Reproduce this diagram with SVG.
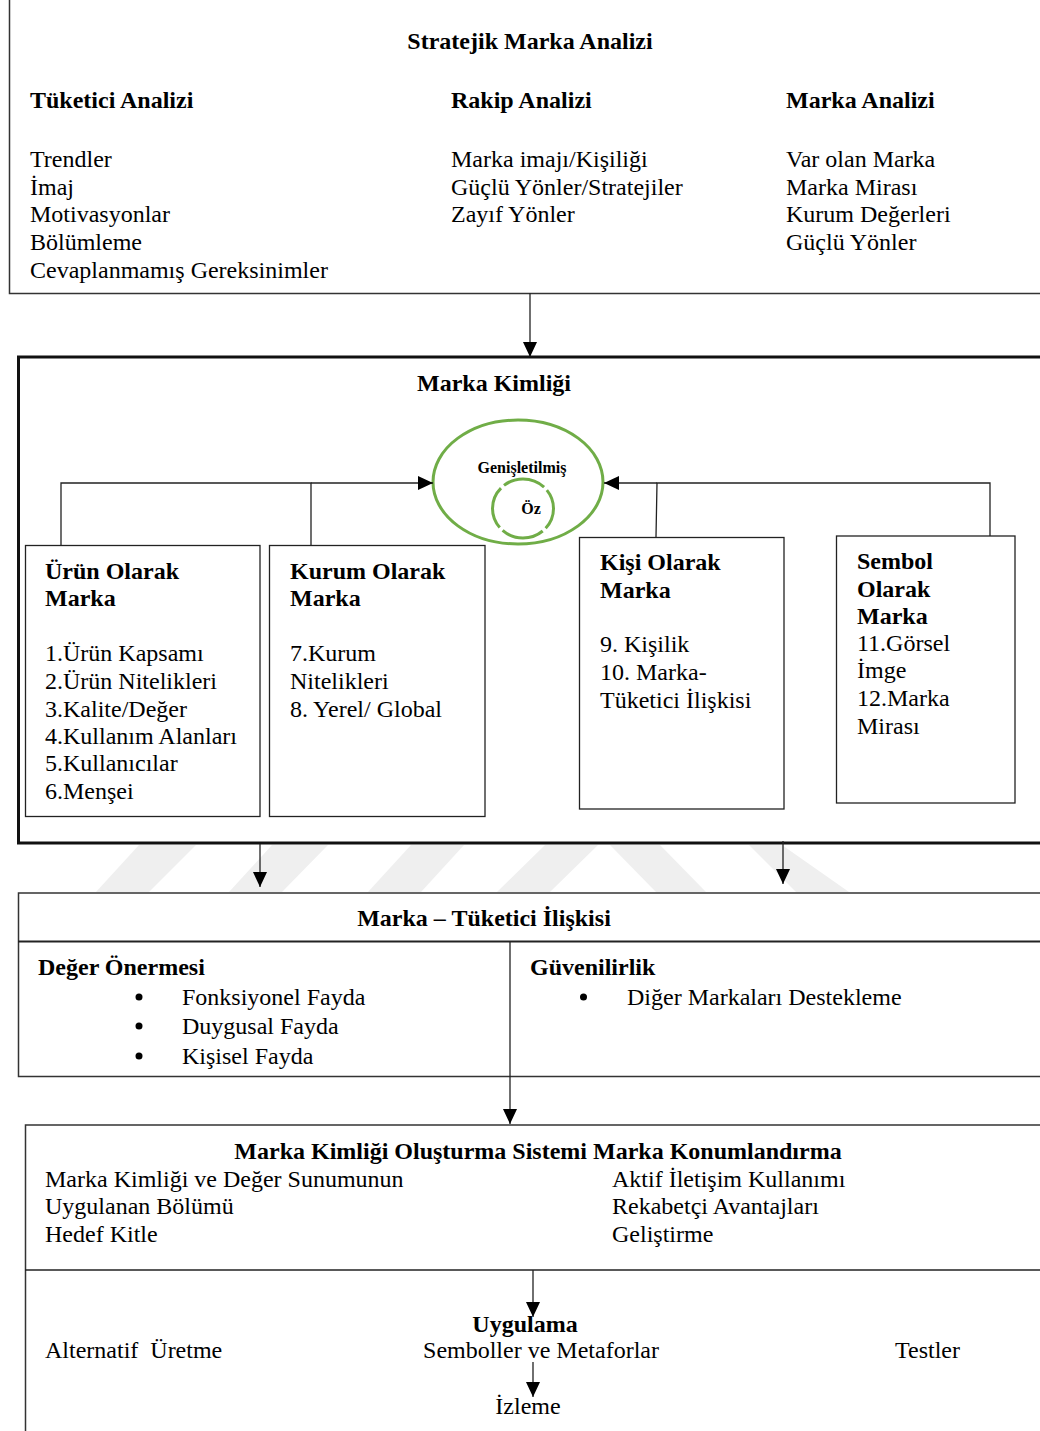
<svg xmlns="http://www.w3.org/2000/svg" width="1040" height="1431" viewBox="0 0 1040 1431">
<defs>
<style>
text{font-family:"Liberation Serif","Times New Roman",serif;font-size:24px;fill:#000}
.b{font-weight:bold}
.s{font-size:16px;font-weight:bold}
.box{fill:#fff;stroke:#222;stroke-width:1.3}
.thin{fill:#fff;stroke:#333;stroke-width:1.5}
.thick{fill:#fff;stroke:#111;stroke-width:3}
.ln{fill:none;stroke:#222;stroke-width:1.3}
.wm{fill:#efefef}
.c{text-anchor:middle}
</style>
<marker id="ah" viewBox="0 0 15 14" refX="15" refY="7" markerWidth="15" markerHeight="14" markerUnits="userSpaceOnUse" orient="auto">
<path d="M0,0 L15,7 L0,14 Z" fill="#000"/>
</marker>
</defs>
<rect width="1040" height="1431" fill="#fff"/>

<g id="watermark">
<polygon class="wm" points="96,892 149,892 196,845 139,845"/>
<polygon class="wm" points="229,892 282,892 328,845 272,845"/>
<polygon class="wm" points="368,892 421,892 464,845 411,845"/>
<polygon class="wm" points="497,892 550,892 598,845 545,845"/>
<polygon class="wm" points="656,892 706,892 660,845 610,845"/>
<polygon class="wm" points="796,892 849,892 782,845 749,845"/>
</g>

<g id="stratejik">
<rect class="thin" x="9.5" y="-2" width="1040" height="295.5"/>
<text class="b c" x="530" y="49">Stratejik Marka Analizi</text>
<text class="b" x="30" y="108">Tüketici Analizi</text>
<text class="b" x="451" y="108">Rakip Analizi</text>
<text class="b" x="786" y="108">Marka Analizi</text>
<text x="30" y="167">Trendler</text>
<text x="30" y="195">İmaj</text>
<text x="30" y="222">Motivasyonlar</text>
<text x="30" y="250">Bölümleme</text>
<text x="30" y="278">Cevaplanmamış Gereksinimler</text>
<text x="451" y="167">Marka imajı/Kişiliği</text>
<text x="451" y="195">Güçlü Yönler/Stratejiler</text>
<text x="451" y="222">Zayıf Yönler</text>
<text x="786" y="167">Var olan Marka</text>
<text x="786" y="195">Marka Mirası</text>
<text x="786" y="222">Kurum Değerleri</text>
<text x="786" y="250">Güçlü Yönler</text>
</g>

<g id="marka-kimligi">
<rect class="thick" x="18.5" y="357" width="1040" height="486"/>
<text class="b c" x="494" y="391">Marka Kimliği</text>
</g>

<g id="genisletilmis">
<ellipse cx="518" cy="482" rx="85" ry="62" fill="none" stroke="#70ad47" stroke-width="3"/>
<text class="s c" x="522" y="473">Genişletilmiş</text>
</g>
<g id="oz">
<ellipse cx="523" cy="508.5" rx="30.5" ry="29.5" fill="none" stroke="#70ad47" stroke-width="3" stroke-dasharray="43.5 4" stroke-dashoffset="21.75"/>
<text class="s c" x="531" y="514">Öz</text>
</g>

<g id="urun">
<rect class="box" x="25.5" y="545.5" width="234.5" height="271"/>
<text class="b" x="45" y="579">Ürün Olarak</text>
<text class="b" x="45" y="606">Marka</text>
<text x="45" y="661">1.Ürün Kapsamı</text>
<text x="45" y="689">2.Ürün Nitelikleri</text>
<text x="45" y="717">3.Kalite/Değer</text>
<text x="45" y="744">4.Kullanım Alanları</text>
<text x="45" y="771">5.Kullanıcılar</text>
<text x="45" y="799">6.Menşei</text>
</g>

<g id="kurum">
<rect class="box" x="269.5" y="545.5" width="215.5" height="271"/>
<text class="b" x="290" y="579">Kurum Olarak</text>
<text class="b" x="290" y="606">Marka</text>
<text x="290" y="661">7.Kurum</text>
<text x="290" y="689">Nitelikleri</text>
<text x="290" y="717">8. Yerel/ Global</text>
</g>

<g id="kisi">
<rect class="box" x="579.5" y="537.5" width="204.5" height="271.5"/>
<text class="b" x="600" y="570">Kişi Olarak</text>
<text class="b" x="600" y="598">Marka</text>
<text x="600" y="652">9. Kişilik</text>
<text x="600" y="680">10. Marka-</text>
<text x="600" y="708">Tüketici İlişkisi</text>
</g>

<g id="sembol">
<rect class="box" x="836.5" y="536" width="178.5" height="267"/>
<text class="b" x="857" y="569">Sembol</text>
<text class="b" x="857" y="597">Olarak</text>
<text class="b" x="857" y="624">Marka</text>
<text x="857" y="651">11.Görsel</text>
<text x="857" y="678">İmge</text>
<text x="857" y="706">12.Marka</text>
<text x="857" y="734">Mirası</text>
</g>

<g id="marka-tuketici">
<rect class="thin" x="18.5" y="893" width="1040" height="183.5"/>
<line x1="18" y1="941.5" x2="1040" y2="941.5" stroke="#222" stroke-width="2"/>
<line x1="510" y1="941" x2="510" y2="1076" stroke="#222" stroke-width="1.3"/>
<text class="b c" x="484" y="926">Marka – Tüketici İlişkisi</text>
<text class="b" x="38" y="975">Değer Önermesi</text>
<circle cx="139" cy="997" r="3.5"/>
<circle cx="139" cy="1026" r="3.5"/>
<circle cx="139" cy="1056" r="3.5"/>
<text x="182" y="1005">Fonksiyonel Fayda</text>
<text x="182" y="1034">Duygusal Fayda</text>
<text x="182" y="1064">Kişisel Fayda</text>
<text class="b" x="530" y="975">Güvenilirlik</text>
<circle cx="583.5" cy="997" r="3.5"/>
<text x="627" y="1005">Diğer Markaları Destekleme</text>
</g>

<g id="olusturma">
<rect class="thin" x="25.5" y="1125" width="1040" height="320"/>
<line x1="25" y1="1270" x2="1040" y2="1270" stroke="#222" stroke-width="1.5"/>
<text class="b c" x="538" y="1159">Marka Kimliği Oluşturma Sistemi Marka Konumlandırma</text>
<text x="45" y="1187">Marka Kimliği ve Değer Sunumunun</text>
<text x="45" y="1214">Uygulanan Bölümü</text>
<text x="45" y="1242">Hedef Kitle</text>
<text x="612" y="1187">Aktif İletişim Kullanımı</text>
<text x="612" y="1214">Rekabetçi Avantajları</text>
<text x="612" y="1242">Geliştirme</text>
</g>

<g id="uygulama">
<text class="b c" x="525" y="1332">Uygulama</text>
<text x="45" y="1358" xml:space="preserve">Alternatif  Üretme</text>
<text class="c" x="541" y="1358">Semboller ve Metaforlar</text>
<text x="895" y="1358">Testler</text>
<text class="c" x="528" y="1414">İzleme</text>
</g>

<g id="connectors">
<line class="ln" x1="530" y1="293" x2="530" y2="357" marker-end="url(#ah)"/>
<polyline class="ln" points="61,545 61,483 311,483 311,545"/>
<line class="ln" x1="311" y1="483" x2="433" y2="483" marker-end="url(#ah)"/>
<polyline class="ln" points="656,537 657,483 990,483 990,536"/>
<line class="ln" x1="657" y1="483" x2="604" y2="483" marker-end="url(#ah)"/>
<line class="ln" x1="260" y1="844" x2="260" y2="887" marker-end="url(#ah)"/>
<line class="ln" x1="783" y1="841" x2="783" y2="884" marker-end="url(#ah)"/>
<line class="ln" x1="510" y1="1076" x2="510" y2="1124" marker-end="url(#ah)"/>
<line class="ln" x1="533" y1="1270" x2="533" y2="1317" marker-end="url(#ah)"/>
<line class="ln" x1="533" y1="1362" x2="533" y2="1397" marker-end="url(#ah)"/>
</g>
</svg>
